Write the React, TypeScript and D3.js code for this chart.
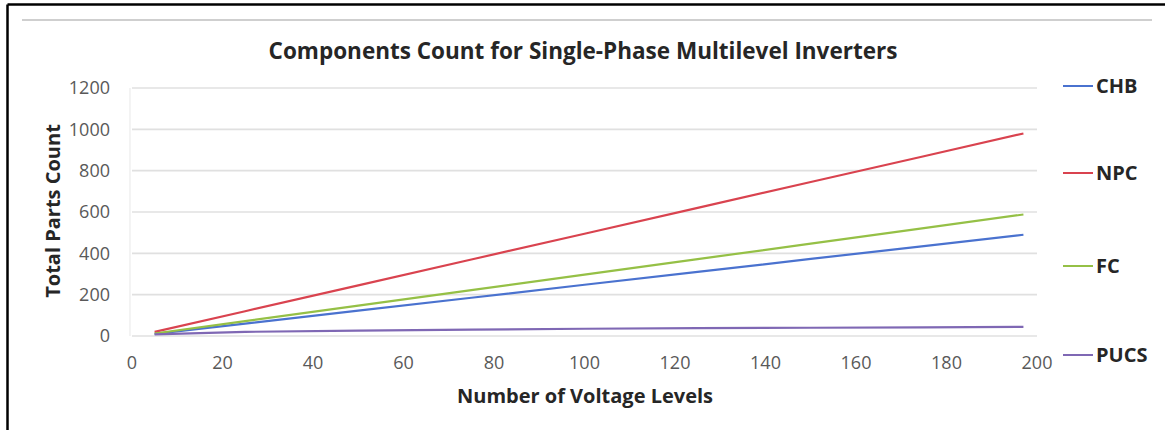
import React from "react";
import * as d3 from "d3";

const levels = [5, 25, 50, 75, 100, 125, 150, 175, 197];
const chb = [10, 60, 123, 185, 248, 310, 373, 435, 490];
const npc = [20, 120, 245, 370, 495, 620, 745, 870, 980];
const fc = [12, 72, 147, 222, 297, 372, 447, 522, 588];
const pucs = [8, 20, 26, 31, 35, 38, 40, 42, 44];
const seriesNames = ["CHB", "NPC", "FC", "PUCS"];
const seriesColors = ["#4a72cf", "#d9434f", "#95c046", "#7f68b4"];
const xTicks = [0, 20, 40, 60, 80, 100, 120, 140, 160, 180, 200];
const yTicks = [0, 200, 400, 600, 800, 1000, 1200];
const legendY = [86, 173, 266, 355];

const FONT = "'Open Sans', sans-serif";

export default function App() {
  const W = 1165, H = 430;
  const x = d3.scaleLinear().domain([0, 200]).range([132, 1037]);
  const y = d3.scaleLinear().domain([0, 1200]).range([336, 88]);
  const allSeries = [chb, npc, fc, pucs];
  const line = d3.line<[number, number]>().x(d => x(d[0])).y(d => y(d[1]));

  return (
    <svg width={W} height={H} style={{ position: "absolute", left: 0, top: 0, background: "#fff" }}>
      {/* outer black frame: top and left */}
      <line x1={7.5} y1={4.5} x2={W} y2={4.5} stroke="#000" strokeWidth={2.5} />
      <line x1={7.5} y1={4.5} x2={7.5} y2={H} stroke="#000" strokeWidth={2.5} />
      {/* gray shadow line of chart area */}
      <line x1={22} y1={20} x2={1152} y2={20} stroke="#cfcfcf" strokeWidth={2} />

      <text x={583} y={59} textAnchor="middle" fontFamily={FONT} fontWeight="bold" fontSize={22.5} fill="#262626">
        Components Count for Single-Phase Multilevel Inverters
      </text>

      {/* grid */}
      {yTicks.map(t => (
        <line key={"g" + t} x1={x(0)} x2={x(200)} y1={y(t)} y2={y(t)} stroke="#e0e0e0" strokeWidth={1.6} />
      ))}
      <line x1={130} x2={130} y1={y(1200)} y2={y(0)} stroke="#ececec" strokeWidth={1.2} />

      {/* y tick labels */}
      {yTicks.map(t => (
        <text key={"y" + t} x={110} y={y(t)} dy="0.35em" textAnchor="end" fontFamily={FONT} fontSize={18} fill="#595959">
          {t}
        </text>
      ))}
      {/* x tick labels */}
      {xTicks.map(t => (
        <text key={"x" + t} x={x(t)} y={363} dy="0.35em" textAnchor="middle" fontFamily={FONT} fontSize={18} fill="#595959">
          {t}
        </text>
      ))}

      {/* axis titles */}
      <text x={585} y={403} textAnchor="middle" fontFamily={FONT} fontWeight="bold" fontSize={20} fill="#262626">
        Number of Voltage Levels
      </text>
      <text transform={`translate(60,211) rotate(-90)`} textAnchor="middle" fontFamily={FONT} fontWeight="bold" fontSize={20} fill="#262626">
        Total Parts Count
      </text>

      {/* series lines */}
      {allSeries.map((s, i) => (
        <path
          key={seriesNames[i]}
          d={line(levels.map((lv, j) => [lv, s[j]] as [number, number])) || ""}
          fill="none"
          stroke={seriesColors[i]}
          strokeWidth={2.2}
        />
      ))}

      {/* legend */}
      {seriesNames.map((n, i) => (
        <g key={"l" + n}>
          <line x1={1063} x2={1093} y1={legendY[i]} y2={legendY[i]} stroke={seriesColors[i]} strokeWidth={2} />
          <text x={1096} y={legendY[i]} dy="0.35em" fontFamily={FONT} fontWeight="bold" fontSize={20} fill="#262626">
            {n}
          </text>
        </g>
      ))}
    </svg>
  );
}
